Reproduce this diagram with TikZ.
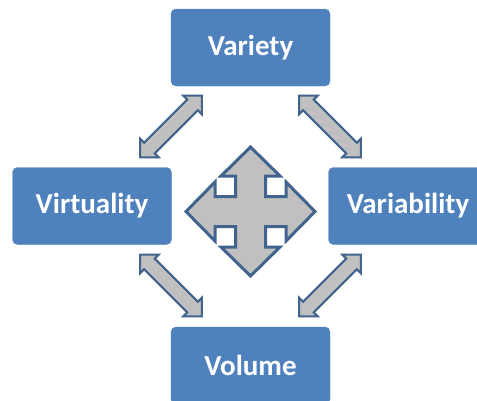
\documentclass[tikz,border=0pt]{standalone}
\usepackage{fontspec}
\setmainfont{Carlito}
\definecolor{boxblue}{HTML}{4F81BD}
\definecolor{arrowline}{HTML}{41648F}
\definecolor{arrowfill}{HTML}{C0C0C0}
\tikzset{
  vbox/.style={rectangle, rounded corners=5pt, fill=boxblue, draw=boxblue,
    minimum width=159pt, minimum height=77pt, text=white,
    font=\fontsize{29}{33}\selectfont\bfseries, inner sep=0pt},
  blockarrow/.style={fill=arrowfill, draw=arrowline, line width=2pt, line join=miter},
  crossarrow/.style={fill=arrowfill, draw=arrowline, line width=3pt, line join=miter},
  pics/dblarrow/.style={code={
    % two-headed block arrow, centred on the pic origin, along local x
    \path[blockarrow] (43.5,0) -- (30.5,13) -- (30.5,7.5) -- (-30.5,7.5)
      -- (-30.5,13) -- (-43.5,0) -- (-30.5,-13) -- (-30.5,-7.5)
      -- (30.5,-7.5) -- (30.5,-13) -- cycle;
  }}
}
\begin{document}
\begin{tikzpicture}[x=1pt, y=1pt]
  \useasboundingbox (0,0) rectangle (477,-400);
  \clip (0,0) rectangle (477,-400);

  % the four V boxes
  \node[vbox] (variety)     at (250.5,-47.5)  {Variety};
  \node[vbox] (virtuality)  at (92,-206)      {Virtuality};
  \node[vbox] (variability) at (408,-206)     {Variability};
  \node[vbox] (volume)      at (250.5,-365.5) {Volume};

  % four-way arrow in the middle
  \coordinate (hub) at (250.5,-211.5);
  \path[crossarrow, shift={(hub)}]
    (0,64.5) -- (-29.5,35.5) -- (-15,35.5) -- (-15,15) -- (-35.5,15)
    -- (-35.5,29.5) -- (-64.5,0) -- (-35.5,-29.5) -- (-35.5,-15) -- (-15,-15)
    -- (-15,-35.5) -- (-29.5,-35.5) -- (0,-64.5) -- (29.5,-35.5) -- (15,-35.5)
    -- (15,-15) -- (35.5,-15) -- (35.5,-29.5) -- (64.5,0) -- (35.5,29.5)
    -- (35.5,15) -- (15,15) -- (15,35.5) -- (29.5,35.5) -- cycle;

  % diagonal two-headed arrows between neighbouring boxes
  \coordinate (tl) at (171,-126.5);
  \coordinate (tr) at (330,-126.5);
  \coordinate (bl) at (171,-285.5);
  \coordinate (br) at (330,-285.5);
  \pic[rotate=45]  at (tl) {dblarrow};
  \pic[rotate=-45] at (tr) {dblarrow};
  \pic[rotate=-45] at (bl) {dblarrow};
  \pic[rotate=45]  at (br) {dblarrow};
\end{tikzpicture}
\end{document}
